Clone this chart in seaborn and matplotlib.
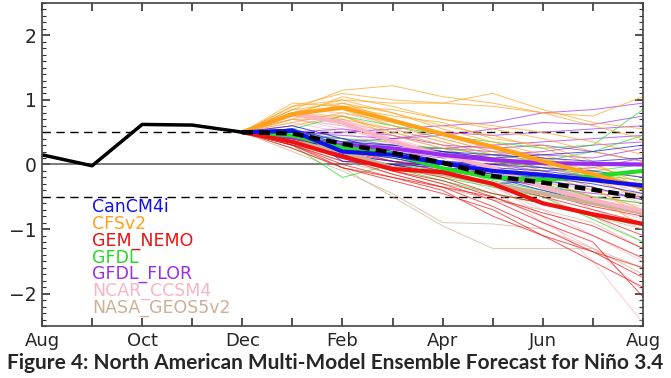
import numpy as np
import pandas as pd
import seaborn as sns
import matplotlib.pyplot as plt
from matplotlib.ticker import MultipleLocator

sns.set_style("ticks")
plt.rcParams['font.family'] = ['DejaVu Sans']

# months from Aug to Aug, x = 0..12
month_labels = ["Aug", "", "Oct", "", "Dec", "", "Feb", "", "Apr", "", "Jun", "", "Aug"]

# observed Nino 3.4 (Aug..Dec)
obs_x = [0, 1, 2, 3, 4]
obs_y = [0.15, -0.02, 0.62, 0.61, 0.50]

# forecast months Dec..Aug
fc_x = [4, 5, 6, 7, 8, 9, 10, 11, 12]

models = ["CanCM4i", "CFSv2", "GEM_NEMO", "GFDL", "GFDL_FLOR", "NCAR_CCSM4", "NASA_GEOS5v2"]
colors = ["#1010ee", "#ffa21a", "#f01010", "#22dd22", "#9a2cf0", "#f8b4c4", "#cdb094"]

# ensemble members
can_members = [
    [.5, .55, .35, .3, .2, .15, .1, .05, .1],
    [.5, .5, .25, .2, .05, -.05, -.1, -.2, -.35],
    [.5, .45, .15, .05, -.05, -.2, -.4, -.6, -.75],
    [.5, .55, .3, .25, .2, .1, .15, .2, .3],
    [.5, .5, .1, 0.0, -.15, -.3, -.25, -.35, -.55],
    [.5, .6, .4, .2, .05, 0.0, -.05, -.1, -.2],
    [.5, .5, .2, .1, -.05, -.15, -.2, -.3, -.45],
    [.5, .55, .05, .0, -.05, -.1, -.15, -.25, -.3],
]
cfs_members = [
    [.5, .85, 1.15, 1.22, 1.05, .95, .8, .6, .4],
    [.5, .9, 1.1, 1.0, .95, 1.1, .85, .65, .55],
    [.5, .8, 1.0, .95, .95, .9, .8, .75, 1.05],
    [.5, .75, 1.05, .9, .7, .55, .4, .2, .05],
    [.5, .7, .95, .8, .6, .45, .25, 0.0, -.3],
    [.5, .95, .9, .85, .7, .6, .5, .35, .15],
    [.5, .8, .85, .6, .4, .2, 0.0, -.25, -.5],
    [.5, .65, .8, .65, .45, .3, .1, -.1, -.35],
    [.5, .75, .75, .5, .3, .1, -.15, -.4, -.7],
    [.5, .85, .95, .7, .5, .3, .1, -.2, -.55],
    [.5, .7, .7, .55, .35, .15, -.1, -.35, -.8],
    [.5, .9, 1.0, .8, .55, .35, .15, -.05, -.2],
    [.5, .6, .75, .45, .25, .05, -.25, -.5, -.95],
    [.5, .8, .9, .75, .65, .4, .3, .05, -.4],
]
gem_members = [
    [.5, .3, 0.0, -.2, -.4, -.8, -1.1, -1.5, -1.9],
    [.5, .35, .1, -.15, -.35, -.65, -1.0, -1.35, -1.6],
    [.5, .4, .15, -.1, -.3, -.55, -.9, -1.2, -2.05],
    [.5, .25, -.05, -.2, -.35, -.5, -.75, -.95, -1.3],
    [.5, .3, .05, 0.0, -.15, -.3, -.5, -.7, -.9],
    [.5, .45, .2, .05, -.1, -.3, -.45, -.65, -.8],
    [.5, .3, -.05, -.25, -.45, -.7, -1.1, -1.35, -1.75],
    [.5, .35, .1, -.05, -.2, -.45, -.6, -.8, -1.1],
    [.5, .4, .25, .05, 0.0, -.15, -.35, -.6, -.7],
    [.5, .35, .15, -.1, -.25, -.5, -.8, -1.1, -1.45],
]
gfdl_members = [
    [.5, .3, -.2, 0.0, -.1, -.15, -.3, -.5, -.6],
    [.5, .55, .75, .6, .45, .35, .25, .3, .85],
    [.5, .45, .3, .2, .05, -.1, -.2, -.1, 0.0],
    [.5, .4, .15, -.05, -.25, -.45, -.6, -.8, -.95],
    [.5, .5, .4, .35, .2, .05, -.05, -.15, -.25],
    [.5, .35, .1, 0.0, -.2, -.35, -.5, -.85, -1.2],
    [.5, .45, .35, .3, .25, .15, .05, .2, .45],
    [.5, .4, .2, .1, -.05, -.25, -.4, -.55, -.75],
]
flor_members = [
    [.5, .45, .5, .55, .6, .65, .8, .85, .95],
    [.5, .5, .45, .4, .45, .55, .65, .62, .75],
    [.5, .4, .35, .4, .5, .45, .5, .55, .6],
    [.5, .45, .35, .25, .25, .3, .35, .4, .45],
    [.5, .35, .3, .2, .1, .15, .2, .3, .35],
    [.5, .4, .25, .15, .05, 0.0, -.1, -.05, .1],
    [.5, .45, .4, .3, .2, .1, -.05, -.2, -.3],
    [.5, .3, .15, .05, -.1, -.2, -.35, -.45, -.5],
    [.5, .4, .3, .3, .25, .2, .15, .1, .25],
    [.5, .5, .55, .45, .3, .25, .3, .2, .05],
]
ncar_members = [
    [.5, .75, .7, .4, .1, -.3, -.8, -1.5, -2.45],
    [.5, .7, .6, .3, 0.0, -.35, -.7, -1.1, -1.5],
    [.5, .8, .7, .45, .25, 0.0, -.35, -.7, -1.0],
    [.5, .65, .5, .25, .05, -.2, -.5, -.8, -1.2],
    [.5, .8, .75, .55, .35, .15, -.1, -.35, -.6],
    [.5, .7, .55, .35, .15, -.1, -.3, -.6, -.85],
    [.5, .75, .65, .5, .3, .1, -.2, -.45, -.3],
    [.5, .85, .8, .6, .4, .2, 0.0, -.2, -.45],
    [.5, .6, .4, .15, -.1, -.4, -.9, -1.3, -1.95],
    [.5, .7, .6, .4, .2, -.05, -.25, -.5, -.65],
]
nasa_members = [
    [.5, .2, -.1, -.45, -.9, -.92, -1.0, -1.3, -1.7],
    [.5, .25, -.05, -.5, -.95, -1.3, -1.3, -1.3, -1.6],
    [.5, .3, .1, -.1, -.3, -.45, -.6, -.8, -1.0],
    [.5, .35, .15, 0.0, -.15, -.3, -.45, -.55, -.75],
    [.5, .4, .25, .1, -.05, -.2, -.35, -.5, -.6],
    [.5, .3, .05, -.15, -.35, -.55, -.7, -.9, -1.3],
    [.5, .45, .3, .2, .05, -.1, -.25, -.4, -.45],
]

# model means (thick lines)
can_mean = [.5, .52, .2, .15, .02, -.1, -.16, -.24, -.33]
cfs_mean = [.5, .78, .88, .68, .47, .27, .05, -.15, -.37]
gem_mean = [.5, .35, .12, -.07, -.12, -.3, -.6, -.77, -.92]
gfdl_mean = [.5, .45, .26, .17, -.06, -.2, -.24, -.18, -.1]
flor_mean = [.5, .42, .3, .25, .15, .07, .02, .01, 0.0]
ncar_mean = [.5, .78, .65, .35, .15, -.05, -.35, -.55, -.72]
nasa_mean = [.5, .35, .2, -.05, -.15, -.3, -.45, -.6, -.75]
nmme_mean = [.5, .48, .32, .18, .03, -.18, -.28, -.39, -.51]

all_members = [can_members, cfs_members, gem_members, gfdl_members,
               flor_members, ncar_members, nasa_members]
all_means = [can_mean, cfs_mean, gem_mean, gfdl_mean, flor_mean, ncar_mean, nasa_mean]

rows = []
for model, members in zip(models, all_members):
    for i, vals in enumerate(members):
        for x, v in zip(fc_x, vals):
            rows.append({"model": model, "member": f"{model}_{i}", "x": x, "y": v})
members_df = pd.DataFrame(rows)

rows = []
for model, vals in zip(models, all_means):
    for x, v in zip(fc_x, vals):
        rows.append({"model": model, "x": x, "y": v})
means_df = pd.DataFrame(rows)

palette = dict(zip(models, colors))

fig = plt.figure(figsize=(6.71, 3.78), dpi=100)
ax = fig.add_axes([0.0626, 0.1376, 0.8956, 0.8545])

ax.axhline(0, color="#555555", lw=1.1, zorder=1)
ax.axhline(0.5, color="black", lw=1.0, ls=(0, (6, 4)), zorder=1)
ax.axhline(-0.5, color="black", lw=1.0, ls=(0, (6, 4)), zorder=1)

# thin members, drawn in reverse so CanCM4i ends on top
for model in models[::-1]:
    sns.lineplot(data=members_df[members_df["model"] == model], x="x", y="y",
                 units="member", estimator=None, color=palette[model],
                 lw=0.7, alpha=0.7, ax=ax, legend=False)

for model in models[::-1]:
    sns.lineplot(data=means_df[means_df["model"] == model], x="x", y="y",
                 color=palette[model], lw=3, ax=ax, legend=False)

sns.lineplot(x=fc_x, y=nmme_mean, color="black", lw=3.2, ls=(0, (2.4, 1.4)), ax=ax)
sns.lineplot(x=obs_x, y=obs_y, color="black", lw=2.5, ax=ax)

ax.set_xlim(0, 12)
ax.set_ylim(-2.5, 2.5)
ax.set_xticks(range(13))
ax.set_xticklabels(month_labels, fontsize=13)
ax.set_yticks([-2, -1, 0, 1, 2])
ax.set_yticklabels(["\u22122", "\u22121", "0", "1", "2"], fontsize=13.5)
ax.yaxis.set_minor_locator(MultipleLocator(0.1))
ax.tick_params(which="both", direction="in", top=True, right=True, color="#333333")
ax.tick_params(which="major", length=6, width=1.2, pad=4)
ax.tick_params(which="minor", length=3, width=0.8)
ax.set_xlabel("")
ax.set_ylabel("")
for s in ax.spines.values():
    s.set_color("#444444")
    s.set_linewidth(1.2)

# model names
for i, (model, c) in enumerate(zip(models, colors)):
    ax.text(0.083, 0.368 - i * 0.052, model, color=c, fontsize=12.5,
            transform=ax.transAxes, va="center", ha="left")

fig.text(0.5, 0.04, "Figure 4: North American Multi-Model Ensemble Forecast for Ni\u00f1o 3.4",
         ha="center", va="center", fontsize=15, fontweight="bold", family=["Lato", "DejaVu Sans"])

fig.savefig("out.png", dpi=100)
